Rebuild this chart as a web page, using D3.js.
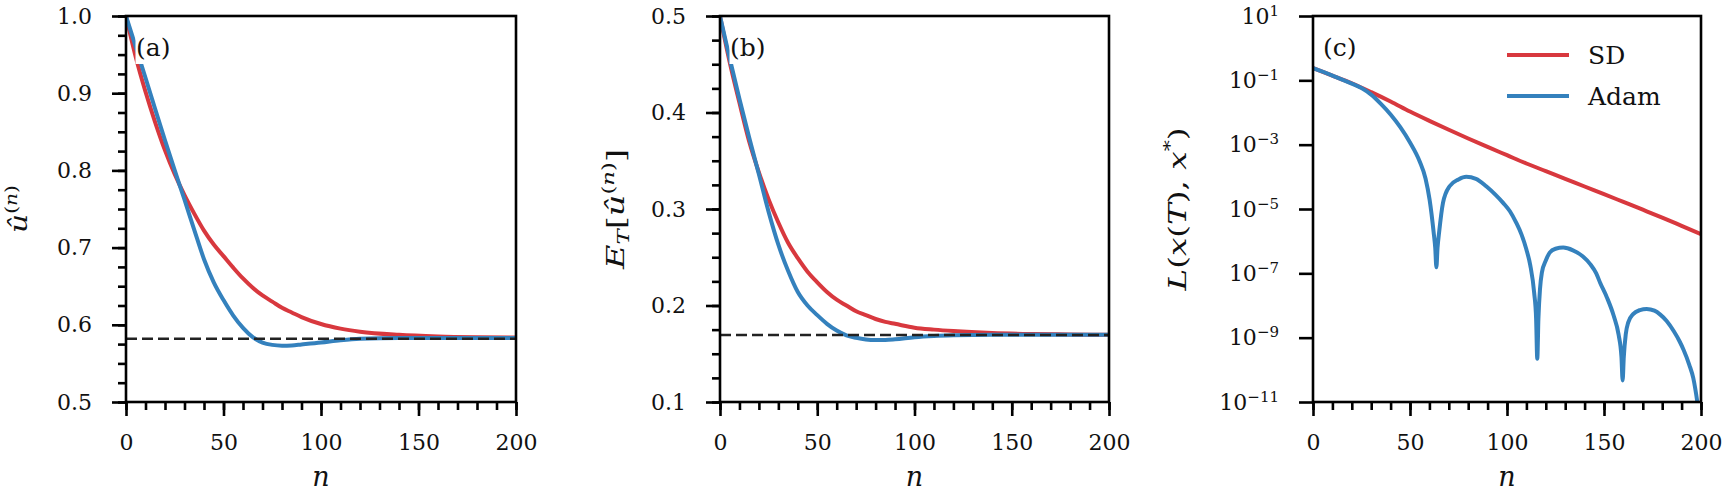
<!DOCTYPE html>
<html>
<head>
<meta charset="utf-8">
<title>SD vs Adam</title>
<script src="https://cdn.jsdelivr.net/npm/d3@7"></script>
<style type="text/css">
    body { margin: 0; background: #fff; }
    svg { display: block; }
    .axis path,
    .axis line {
        fill: none;
        stroke: #000;
        stroke-width: 2.6;
    }
    .axis text {
        font-family: "DejaVu Serif", serif;
        font-size: 22px;
        fill: #111;
    }
    .lbl {
        font-family: "DejaVu Serif", serif;
        fill: #111;
    }
</style>
</head>
<body>
<svg id="chart" width="1725" height="494"></svg>
<script type="text/javascript">
    // iteration grid for panels (a) and (b)
    var nGrid = [0, 5, 10, 15, 20, 25, 30, 35, 40, 45, 50, 55, 60, 65, 70, 75, 80, 85, 90, 100, 110, 120, 140, 160, 180, 200];

    // (a) u-hat^(n)
    var sdA = [1.0, 0.947, 0.902, 0.862, 0.826, 0.795, 0.768, 0.744, 0.722, 0.704, 0.689, 0.674, 0.660, 0.648, 0.638, 0.630, 0.622, 0.616, 0.610, 0.601, 0.595, 0.591, 0.587, 0.585, 0.584, 0.5835];
    var adamA = [1.0, 0.960, 0.920, 0.879, 0.839, 0.800, 0.762, 0.723, 0.685, 0.655, 0.632, 0.612, 0.596, 0.584, 0.577, 0.574, 0.573, 0.5733, 0.5745, 0.577, 0.580, 0.582, 0.583, 0.583, 0.583, 0.583];
    var limitA = 0.582;

    // (b) E_T[u-hat^(n)]
    var sdB = [0.5, 0.452, 0.410, 0.370, 0.338, 0.310, 0.286, 0.265, 0.249, 0.235, 0.224, 0.214, 0.206, 0.200, 0.194, 0.190, 0.186, 0.183, 0.181, 0.177, 0.175, 0.1735, 0.1715, 0.1705, 0.170, 0.1697];
    var adamB = [0.5, 0.456, 0.414, 0.374, 0.336, 0.297, 0.263, 0.236, 0.214, 0.200, 0.190, 0.181, 0.174, 0.169, 0.1665, 0.1648, 0.1642, 0.1643, 0.165, 0.1672, 0.1685, 0.1692, 0.1697, 0.1697, 0.1697, 0.1697];
    var limitB = 0.1695;

    // (c) loss L(x(T), x*)
    var nSdC = [0, 10, 20, 30, 40, 50, 60, 70, 80, 90, 100, 110, 120, 130, 140, 150, 160, 170, 180, 190, 200];
    var sdC = [2.4e-1, 1.41e-1, 8.1e-2, 4.3e-2, 2.2e-2, 1.07e-2, 5.5e-3, 2.9e-3, 1.55e-3, 8.5e-4, 4.7e-4, 2.6e-4, 1.5e-4, 8.7e-5, 5.0e-5, 2.9e-5, 1.66e-5, 9.5e-6, 5.4e-6, 3.0e-6, 1.66e-6];
    var nAdamC = [0, 10, 20, 25, 30, 35, 40, 45, 50, 55, 58, 60.1, 62.2, 63, 63.6, 64.2, 65, 67, 70.4, 75, 79, 84, 89.3, 94, 98, 101.5, 104.8, 107.5, 110, 112, 114, 115, 115.6, 116.2, 117, 118, 120, 122, 125, 129, 134, 139, 143, 146, 148, 151.5, 155, 157.5, 159, 159.6, 160.2, 161.2, 162.5, 165, 168.5, 172, 176, 179, 182.3, 186, 189, 191, 194, 196, 198.1, 199];
    var adamC = [2.4e-1, 1.41e-1, 7.9e-2, 5.8e-2, 3.6e-2, 1.86e-2, 8.7e-3, 3.5e-3, 1.17e-3, 3.0e-4, 8.9e-5, 1.95e-5, 1.86e-6, 6.3e-7, 1.55e-7, 6.3e-7, 1.86e-6, 1.55e-5, 5.1e-5, 8.3e-5, 1.0e-4, 8.7e-5, 5.1e-5, 2.8e-5, 1.55e-5, 8.5e-6, 3.7e-6, 1.6e-6, 5.5e-7, 1.78e-7, 2.5e-8, 4.0e-9, 2.2e-10, 4.0e-9, 3.2e-8, 1.07e-7, 2.5e-7, 4.4e-7, 5.8e-7, 6.3e-7, 5.2e-7, 3.4e-7, 1.9e-7, 1.0e-7, 5.1e-8, 1.78e-8, 4.8e-9, 1.26e-9, 2.5e-10, 4.7e-11, 2.5e-10, 1.26e-9, 3.0e-9, 5.4e-9, 7.2e-9, 7.8e-9, 6.9e-9, 5.2e-9, 3.3e-9, 1.58e-9, 7.6e-10, 4.2e-10, 1.41e-10, 5.6e-11, 1.0e-11, 4.0e-12];

    // ticks and labels
    var xTicks = [0, 50, 100, 150, 200];
    var xMinor = [0, 10, 20, 30, 40, 50, 60, 70, 80, 90, 100, 110, 120, 130, 140, 150, 160, 170, 180, 190, 200];
    var yTicksA = [0.5, 0.6, 0.7, 0.8, 0.9, 1.0];
    var yTicksB = [0.1, 0.2, 0.3, 0.4, 0.5];
    var yTicksC = [1e1, 1e-1, 1e-3, 1e-5, 1e-7, 1e-9, 1e-11];
    var yExpC = ["1", "\u22121", "\u22123", "\u22125", "\u22127", "\u22129", "\u221211"];
    var panelTags = ["(a)", "(b)", "(c)"];
    var legendNames = ["SD", "Adam"];

    var red = "#d8383e";
    var blue = "#3481bd";
    var top_ = 16, bottom = 402;

    var svg = d3.select("#chart");

    function zip(xs, ys) {
        return xs.map(function (d, i) { return [d, ys[i]]; });
    }

    // tick marks only: drop the domain path and the empty labels
    function bareTicks(s) {
        s.select(".domain").remove();
        s.selectAll("text").remove();
    }

    function drawPanel(o) {
        var x = d3.scaleLinear().domain([0, 200]).range([o.left, o.right]);
        var y = o.y;
        var g = svg.append("g");

        g.append("clipPath").attr("id", "clip" + o.id)
            .append("rect")
            .attr("x", o.left).attr("y", top_)
            .attr("width", o.right - o.left).attr("height", bottom - top_);

        var line = d3.line()
            .x(function (d) { return x(d[0]); })
            .y(function (d) { return y(d[1]); })
            .curve(d3.curveMonotoneX);

        var plot = g.append("g").attr("clip-path", "url(#clip" + o.id + ")");
        plot.append("path")
            .attr("d", line(o.sd))
            .attr("fill", "none").attr("stroke", red).attr("stroke-width", 4);
        plot.append("path")
            .attr("d", line(o.adam))
            .attr("fill", "none").attr("stroke", blue).attr("stroke-width", 4);
        if (o.limit !== undefined) {
            plot.append("line")
                .attr("x1", o.left).attr("x2", o.right)
                .attr("y1", y(o.limit)).attr("y2", y(o.limit))
                .attr("stroke", "#222").attr("stroke-width", 2.4)
                .attr("stroke-dasharray", "11,5");
        }

        // x axis: minor then major
        g.append("g").attr("class", "axis")
            .attr("transform", "translate(0," + bottom + ")")
            .call(d3.axisBottom(x).tickValues(xMinor).tickSize(8).tickSizeOuter(0))
            .call(bareTicks);
        g.append("g").attr("class", "axis")
            .attr("transform", "translate(0," + bottom + ")")
            .call(d3.axisBottom(x).tickValues(xTicks).tickSize(14).tickPadding(18).tickSizeOuter(0))
            .call(function (s) { s.select(".domain").remove(); });

        // y axis
        if (o.yMinor) {
            g.append("g").attr("class", "axis")
                .attr("transform", "translate(" + o.left + ",0)")
                .call(d3.axisLeft(y).tickValues(o.yMinor).tickSize(8).tickSizeOuter(0))
                .call(bareTicks);
        }
        var ya = g.append("g").attr("class", "axis")
            .attr("transform", "translate(" + o.left + ",0)")
            .call(d3.axisLeft(y).tickValues(o.yTicks).tickSize(14).tickPadding(20).tickSizeOuter(0)
                .tickFormat(o.yFormat || d3.format(".1f")))
            .call(function (s) { s.select(".domain").remove(); });
        if (o.yExp) {
            ya.selectAll(".tick text").each(function (d, i) {
                var t = d3.select(this).text(null);
                t.append("tspan").text("10");
                t.append("tspan").attr("dy", "-8").attr("font-size", "15px").text(o.yExp[i]);
            });
        }

        // frame
        g.append("rect")
            .attr("x", o.left).attr("y", top_)
            .attr("width", o.right - o.left).attr("height", bottom - top_)
            .attr("fill", "none").attr("stroke", "#000").attr("stroke-width", 2.6);

        // panel tag with white box
        if (o.tagBox) {
            g.append("rect")
                .attr("x", o.left + 9.5).attr("y", top_ + 19)
                .attr("width", 42).attr("height", 29)
                .attr("fill", "#fff");
        }
        g.append("text").attr("class", "lbl")
            .attr("x", o.left + 10).attr("y", 56)
            .attr("font-size", "25px")
            .text(o.tag);

        // x label
        g.append("text").attr("class", "lbl")
            .attr("x", (o.left + o.right) / 2).attr("y", 486)
            .attr("text-anchor", "middle")
            .attr("font-size", "27px").attr("font-style", "italic")
            .text("n");

        // y label
        var yl = g.append("text").attr("class", "lbl")
            .attr("transform", "translate(" + o.ylx + "," + ((top_ + bottom) / 2) + ") rotate(-90)")
            .attr("text-anchor", "middle")
            .attr("font-size", "25px")
            .attr("textLength", o.ylLen)
            .attr("lengthAdjust", "spacingAndGlyphs");
        o.ylParts.forEach(function (p) {
            var ts = yl.append("tspan").text(p.t);
            if (p.i) ts.attr("font-style", "italic");
            if (p.dy) ts.attr("dy", p.dy);
            if (p.s) ts.attr("font-size", p.s);
        });
        return g;
    }

    var yA = d3.scaleLinear().domain([0.5, 1.0]).range([bottom, top_]);
    drawPanel({
        id: "a", left: 126, right: 516, y: yA,
        sd: zip(nGrid, sdA), adam: zip(nGrid, adamA), limit: limitA,
        yTicks: yTicksA, yMinor: d3.range(0.5, 1.0001, 0.025),
        tag: panelTags[0], tagBox: true,
        ylx: 27, ylLen: 48,
        ylParts: [
            { t: "\u00fb", i: true },
            { t: "(", dy: -10, s: "17px" },
            { t: "n", i: true, s: "17px" },
            { t: ")", s: "17px" }
        ]
    });

    var yB = d3.scaleLinear().domain([0.1, 0.5]).range([bottom, top_]);
    drawPanel({
        id: "b", left: 720, right: 1109, y: yB,
        sd: zip(nGrid, sdB), adam: zip(nGrid, adamB), limit: limitB,
        yTicks: yTicksB, yMinor: d3.range(0.1, 0.5001, 0.025),
        tag: panelTags[1], tagBox: true,
        ylx: 624, ylLen: 120,
        ylParts: [
            { t: "E", i: true },
            { t: "T", i: true, dy: 5, s: "17px" },
            { t: "[", dy: -5 },
            { t: "\u00fb", i: true },
            { t: "(", dy: -10, s: "17px" },
            { t: "n", i: true, s: "17px" },
            { t: ")", s: "17px" },
            { t: "]", dy: 10 }
        ]
    });

    var yC = d3.scaleLog().domain([1e-11, 1e1]).range([bottom, top_]);
    var gC = drawPanel({
        id: "c", left: 1313, right: 1701, y: yC,
        sd: zip(nSdC, sdC), adam: zip(nAdamC, adamC),
        yTicks: yTicksC, yExp: yExpC, yFormat: function () { return ""; },
        tag: panelTags[2], tagBox: false,
        ylx: 1186, ylLen: 163,
        ylParts: [
            { t: "L", i: true },
            { t: "(" },
            { t: "x", i: true },
            { t: "(" },
            { t: "T", i: true },
            { t: "), " },
            { t: "x", i: true },
            { t: "*", dy: -10, s: "17px" },
            { t: ")", dy: 10 }
        ]
    });

    // legend for (c)
    var legendColors = [red, blue];
    var legendY = [55, 96];
    legendNames.forEach(function (name, i) {
        gC.append("line")
            .attr("x1", 1507).attr("x2", 1569)
            .attr("y1", legendY[i]).attr("y2", legendY[i])
            .attr("stroke", legendColors[i]).attr("stroke-width", 4);
        gC.append("text").attr("class", "lbl")
            .attr("x", 1588).attr("y", legendY[i] + 9)
            .attr("font-size", "25px")
            .text(name);
    });
</script>
</body>
</html>
